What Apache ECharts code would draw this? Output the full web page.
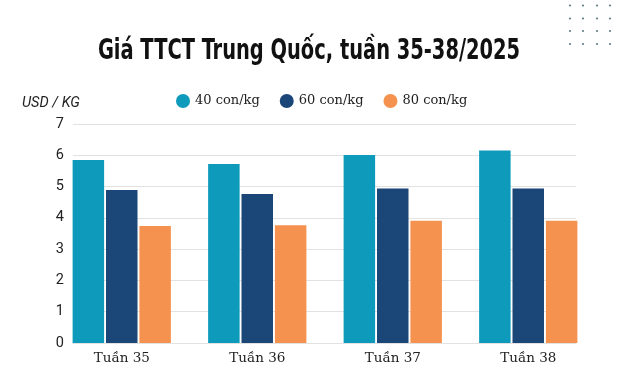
<!DOCTYPE html>
<html><head><meta charset="utf-8">
<script src="https://cdn.jsdelivr.net/npm/echarts@6/dist/echarts.min.js"></script>
<style>html,body{margin:0;padding:0;background:#fff}#c{width:623px;height:380px}</style>
</head><body><div id="c"></div>
<script>
const categories = ['Tuần 35', 'Tuần 36', 'Tuần 37', 'Tuần 38'];
const seriesNames = ['40 con/kg', '60 con/kg', '80 con/kg'];
const s40 = [5.85, 5.72, 6.01, 6.15];
const s60 = [4.89, 4.76, 4.94, 4.94];
const s80 = [3.74, 3.76, 3.91, 3.91];
const yTicks = [0, 1, 2, 3, 4, 5, 6, 7];
const colors = ['#0e9bbb', '#1b4678', '#f5924f'];

const chart = echarts.init(document.getElementById('c'), null, {renderer: 'canvas'});
const dots = [];
[570, 583, 597, 610].forEach(x => [5.5, 18.5, 31, 44].forEach(y => {
  dots.push({type: 'circle', shape: {cx: x, cy: y, r: 1.1}, style: {fill: '#5f7f85'}, silent: true});
}));
const slab = '"DejaVu Serif", serif';
chart.setOption({
  animation: false,
  graphic: dots.concat([
    {
      type: 'text', x: 309, y: 51, scaleX: 0.745, silent: true,
      style: {text: 'Giá TTCT Trung Quốc, tuần 35-38/2025', font: 'bold 29px "DejaVu Sans Condensed", sans-serif',
        fill: '#111', textAlign: 'center', textVerticalAlign: 'middle'}
    },
    {
      type: 'text', left: 22, top: 96, silent: true,
      style: {text: 'USD / KG', font: 'italic 14.5px Roboto, sans-serif', fill: '#222'}
    }
  ]),
  legend: {
    data: seriesNames, top: 89, left: 171, itemGap: 20,
    icon: 'circle', itemWidth: 14, itemHeight: 14,
    textStyle: {fontFamily: slab, fontSize: 13, color: '#222'}
  },
  grid: [
    {left: 54, right: 27, top: 124, bottom: 37, containLabel: false},
    {left: 73, right: 47, top: 124, bottom: 37, containLabel: false}
  ],
  xAxis: [
    {type: 'category', data: categories, gridIndex: 0,
     axisLine: {show: false}, axisTick: {show: false},
     axisLabel: {fontFamily: slab, fontSize: 13.5, color: '#222', margin: 8}},
    {type: 'category', data: categories, gridIndex: 1, show: false}
  ],
  yAxis: [
    {type: 'value', gridIndex: 0, min: 0, max: 7, interval: 1, show: false, splitLine: {show: false}},
    {type: 'value', gridIndex: 1, min: 0, max: 7, interval: 1,
     axisLabel: {fontFamily: 'Roboto, sans-serif', fontSize: 14.5, color: '#222', margin: 9,
       formatter: v => yTicks.includes(v) ? String(v) : ''},
     axisLine: {show: false}, axisTick: {show: false},
     splitLine: {lineStyle: {color: '#e2e2e2', width: 1}}}
  ],
  series: [s40, s60, s80].map((d, i) => ({
    name: seriesNames[i], type: 'bar', data: d,
    xAxisIndex: 0, yAxisIndex: 0,
    barWidth: 31.5, barGap: '6%',
    itemStyle: {color: colors[i]}
  }))
});
</script></body></html>
